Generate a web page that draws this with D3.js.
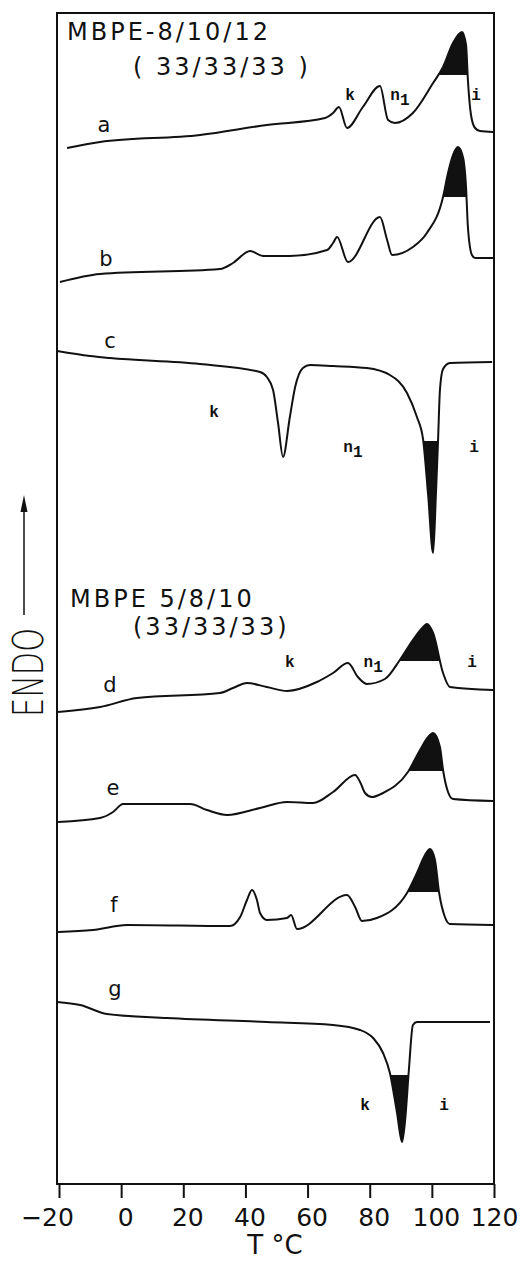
<!DOCTYPE html>
<html>
<head>
<meta charset="utf-8">
<script src="https://cdn.jsdelivr.net/npm/d3@7"></script>
<style>
  body { margin: 0; background: #fff; }
  svg { display: block; }
  .curve { fill: none; stroke: #111; stroke-width: 2; stroke-linejoin: round; }
  .frame { fill: none; stroke: #111; stroke-width: 2; }
  .letter { font-family: 'DejaVu Sans', sans-serif; font-size: 21px; fill: #111; }
  .phase { font-family: 'Liberation Mono', monospace; font-weight: bold; font-size: 16px; fill: #111; }
  .title { font-family: 'DejaVu Sans', sans-serif; font-size: 24px; fill: #111; letter-spacing: 3px; }
</style>
</head>
<body>
<div id="main"></div>
<script>
// set up the frame
const WIDTH = 521;
const HEIGHT = 1261;
const FRAME = { left: 57, right: 494, top: 13, bottom: 1184 };

// thermograms: temperature (°C) and endo signal (arbitrary, stacked)
const tempsA = [-17.4, -6.8, 25.4, 46.9, 65.6, 68.2, 70.1, 72.7, 77.8, 83.3, 85.9, 88.1, 93.9, 100.4, 103.6, 106.8, 109.7, 111.0, 111.6, 112.6, 113.9, 115.5, 119.7];
const endoA = [103.6, 104.2, 104.9, 105.9, 106.6, 107.1, 107.7, 105.6, 107.7, 109.8, 106.4, 106.1, 107.1, 110.1, 111.7, 114.1, 115.2, 113.9, 110.4, 106.9, 105.6, 105.3, 105.2];

const tempsB = [-19.7, -6.8, 31.8, 36.0, 41.5, 45.7, 54.3, 66.3, 68.2, 69.5, 73.0, 83.3, 85.6, 87.2, 93.9, 98.4, 103.6, 105.2, 106.8, 108.4, 110.0, 111.0, 111.6, 112.9, 113.9, 119.7];
const endoB = [90.2, 91.0, 91.5, 92.1, 93.3, 92.8, 92.8, 93.4, 94.1, 94.7, 92.2, 96.7, 94.4, 92.9, 93.7, 95.1, 98.7, 101.1, 102.9, 103.7, 102.7, 99.7, 95.7, 92.9, 92.6, 92.6];

const tempsC = [-20.6, -10.0, -3.6, 25.4, 44.7, 46.9, 48.9, 50.5, 52.1, 54.3, 56.0, 58.5, 60.8, 68.2, 79.1, 86.5, 92.0, 95.2, 97.2, 98.8, 100.4, 101.3, 102.0, 102.6, 103.6, 105.8, 119.4];
const endoC = [83.3, 82.8, 82.6, 82.0, 81.2, 80.7, 79.4, 76.1, 72.7, 76.7, 79.7, 81.6, 81.9, 81.8, 81.6, 80.9, 79.1, 76.7, 74.4, 68.9, 63.1, 68.9, 74.4, 79.4, 81.5, 82.1, 82.2];

const tempsD = [-20.3, -6.8, 5.1, 31.8, 36.0, 40.5, 46.9, 53.4, 63.0, 68.2, 73.0, 76.2, 79.1, 84.9, 89.7, 93.9, 97.2, 98.4, 100.4, 103.6, 105.8, 119.7];
const endoD = [47.2, 47.7, 48.6, 49.1, 49.6, 50.1, 49.7, 49.3, 50.2, 51.1, 52.1, 50.7, 50.0, 50.5, 52.4, 54.4, 55.7, 56.0, 55.1, 51.1, 49.7, 49.4];

const tempsE = [-20.3, -6.8, -2.6, 0.6, 7.0, 22.2, 27.6, 34.1, 44.7, 53.4, 61.8, 68.2, 75.3, 76.9, 78.5, 80.7, 84.3, 92.3, 96.2, 98.8, 100.4, 102.6, 103.6, 105.2, 106.8, 119.7];
const endoE = [36.2, 36.6, 37.2, 38.0, 38.0, 38.0, 37.4, 36.9, 37.6, 38.2, 38.1, 39.2, 40.9, 40.2, 39.1, 38.7, 39.1, 41.2, 43.4, 44.7, 45.1, 43.7, 41.4, 39.2, 38.5, 38.3];

const tempsF = [-20.3, -9.1, 1.9, 35.0, 38.3, 40.5, 42.1, 43.7, 44.7, 46.9, 53.4, 54.7, 56.6, 72.7, 75.3, 77.5, 82.3, 92.0, 95.2, 97.8, 99.4, 101.0, 102.3, 104.2, 105.8, 119.7];
const endoF = [25.2, 25.4, 25.9, 25.8, 26.7, 28.4, 29.4, 28.4, 27.1, 26.4, 26.6, 26.9, 25.5, 28.9, 27.7, 26.3, 26.6, 29.1, 31.1, 32.9, 33.5, 32.4, 29.2, 26.7, 26.0, 25.9];

const tempsG = [-20.6, -13.2, -4.6, 14.8, 46.9, 68.2, 76.9, 81.1, 84.3, 86.5, 88.8, 90.4, 91.4, 92.6, 93.9, 95.2, 118.7];
const endoG = [18.2, 17.9, 17.0, 16.6, 16.2, 15.9, 15.4, 14.6, 13.1, 11.1, 7.1, 4.2, 6.4, 11.4, 15.9, 16.2, 16.2];

// blackened part of the main transition: cut level, temperature window, direction
const shadeLevels = [110.9, 98.7, 74.3, 52.3, 41.3, 29.2, 10.9];
const shadeFrom = [95, 95, 90, 86, 86, 86, 80];
const shadeTo = [116, 116, 110, 110, 110, 110, 100];
const shadeUp = [true, true, false, true, true, true, false];

// trace letters
const curveNames = ['a', 'b', 'c', 'd', 'e', 'f', 'g'];
const nameTemps = [-5.5, -4.9, -3.6, -3.6, -2.6, -2.3, -2.0];
const nameLevels = [105.2, 91.8, 83.6, 49.2, 38.9, 27.2, 18.8];

// phase labels (k crystal, n1 nematic, i isotropic)
const phaseText = ['k', 'n1', 'i', 'k', 'n1', 'i', 'k', 'n1', 'i', 'k', 'i'];
const phaseTemps = [73.7, 88.1, 114.2, 29.9, 73.0, 113.6, 54.3, 79.5, 112.9, 78.5, 103.9];
const phaseLevels = [108.4, 108.4, 108.4, 76.7, 73.2, 73.2, 51.7, 51.7, 51.7, 7.4, 7.4];

// x axis ticks
const tickValues = [-20, 0, 20, 40, 60, 80, 100, 120];
const tickLabels = ['\u221220', '0', '20', '40', '60', '80', '100', '120'];

const traces = [
  [tempsA, endoA], [tempsB, endoB], [tempsC, endoC], [tempsD, endoD],
  [tempsE, endoE], [tempsF, endoF], [tempsG, endoG],
].map(([temps, endo], i) => ({
  name: curveNames[i],
  points: temps.map((t, j) => ({ t, v: endo[j] })),
  level: shadeLevels[i],
  from: shadeFrom[i],
  to: shadeTo[i],
  up: shadeUp[i],
}));

const svg = d3
  .select('div#main')
  .append('svg')
  .attr('width', WIDTH)
  .attr('height', HEIGHT);

// scalers
const xScale = d3.scaleLinear().domain([-20, 120]).range([59, 494]);
const yScale = d3.scaleLinear().domain([0, 117.1]).range([FRAME.bottom, FRAME.top]);

const line = d3
  .line()
  .x((d) => xScale(d.t))
  .y((d) => yScale(d.v))
  .curve(d3.curveMonotoneX);

// shaded peaks
const defs = svg.append('defs');
traces.forEach((tr) => {
  const yl = yScale(tr.level);
  defs
    .append('clipPath')
    .attr('id', `clip-${tr.name}`)
    .append('rect')
    .attr('x', xScale(tr.from))
    .attr('width', xScale(tr.to) - xScale(tr.from))
    .attr('y', tr.up ? FRAME.top : yl)
    .attr('height', tr.up ? yl - FRAME.top : FRAME.bottom - yl);

  const area = d3
    .area()
    .x((d) => xScale(d.t))
    .y0(yl)
    .y1((d) => yScale(d.v))
    .curve(d3.curveMonotoneX);

  svg
    .append('path')
    .datum(tr.points)
    .attr('clip-path', `url(#clip-${tr.name})`)
    .attr('fill', '#111')
    .attr('d', area);
});

// traces
svg
  .selectAll('.curve')
  .data(traces)
  .enter()
  .append('path')
  .attr('class', 'curve')
  .attr('d', (d) => line(d.points));

// frame
svg
  .append('rect')
  .attr('class', 'frame')
  .attr('x', FRAME.left)
  .attr('y', FRAME.top)
  .attr('width', FRAME.right - FRAME.left)
  .attr('height', FRAME.bottom - FRAME.top);

// x axis
const xAxisGroup = svg
  .append('g')
  .attr('transform', `translate(0,${FRAME.bottom})`)
  .call(
    d3.axisBottom(xScale)
      .tickValues(tickValues)
      .tickSize(14)
      .tickPadding(10)
      .tickFormat((d, i) => tickLabels[i])
  );
xAxisGroup.select('.domain').remove();
xAxisGroup.selectAll('line').attr('stroke', '#111').attr('stroke-width', 2);
xAxisGroup
  .selectAll('text')
  .attr('fill', '#111')
  .style('font-family', "'DejaVu Sans', sans-serif")
  .style('font-size', '25px')
  .attr('dx', (d, i) => (i === 0 ? -12 : i === tickValues.length - 1 ? 0 : 4));

svg
  .append('text')
  .attr('class', 'title')
  .attr('x', 275)
  .attr('y', 1254)
  .attr('text-anchor', 'middle')
  .style('font-size', '26px')
  .style('letter-spacing', '0px')
  .text('T \u00B0C');

// y label with arrow
svg
  .append('text')
  .attr('class', 'title')
  .attr('transform', 'translate(43,717) rotate(-90)')
  .attr('textLength', 89)
  .attr('lengthAdjust', 'spacingAndGlyphs')
  .style('font-size', '42px')
  .style('font-weight', 300)
  .style('letter-spacing', '0px')
  .text('ENDO');

svg
  .append('line')
  .attr('x1', 24)
  .attr('x2', 24)
  .attr('y1', 615)
  .attr('y2', 508)
  .attr('stroke', '#111')
  .attr('stroke-width', 1.5);
svg
  .append('path')
  .attr('d', 'M24,495 L20.5,512 L27.5,512 Z')
  .attr('fill', '#111');

// sample titles
const titles = [
  { x: 67, y: 40, text: 'MBPE-8/10/12' },
  { x: 133, y: 75, text: '( 33/33/33 )' },
  { x: 70, y: 607, text: 'MBPE 5/8/10' },
  { x: 133, y: 635, text: '(33/33/33)' },
];
svg
  .selectAll('.title-line')
  .data(titles)
  .enter()
  .append('text')
  .attr('class', 'title title-line')
  .attr('x', (d) => d.x)
  .attr('y', (d) => d.y)
  .text((d) => d.text);

// trace letters
svg
  .selectAll('.letter')
  .data(curveNames)
  .enter()
  .append('text')
  .attr('class', 'letter')
  .attr('text-anchor', 'middle')
  .attr('x', (d, i) => xScale(nameTemps[i]))
  .attr('y', (d, i) => yScale(nameLevels[i]))
  .text((d) => d);

// phase labels
const phase = svg
  .selectAll('.phase')
  .data(phaseText)
  .enter()
  .append('text')
  .attr('class', 'phase')
  .attr('text-anchor', 'middle')
  .attr('x', (d, i) => xScale(phaseTemps[i]) + (d === 'n1' ? 5 : 0))
  .attr('y', (d, i) => yScale(phaseLevels[i]));
phase.append('tspan').text((d) => d[0]);
phase
  .filter((d) => d.length > 1)
  .append('tspan')
  .attr('dy', 5)
  .text((d) => d.slice(1));
</script>
</body>
</html>
